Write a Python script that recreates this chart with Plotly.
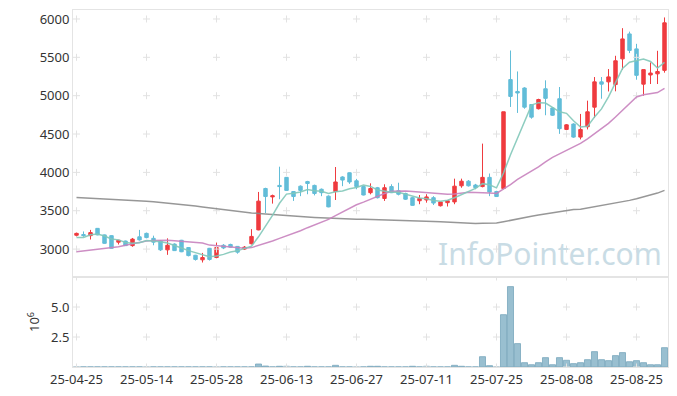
import plotly.graph_objects as go
from plotly.subplots import make_subplots
import pandas as pd

# ---- trading days (KRX) ----
apr_days = [25, 28, 29, 30]
may_days = [2, 7, 8, 9, 12, 13, 14, 15, 16, 19, 20, 21, 22, 23, 26, 27, 28, 29, 30]
jun_days = [2, 4, 5, 9, 10, 11, 12, 13, 16, 17, 18, 19, 20, 23, 24, 25, 26, 27, 30]
jul_days = [1, 2, 3, 4, 7, 8, 9, 10, 11, 14, 15, 16, 17, 18, 21, 22, 23, 24, 25, 28, 29, 30, 31]
aug_days = [1, 4, 5, 6, 7, 8, 11, 12, 13, 14, 18, 19, 20, 21, 22, 25, 26, 27, 28, 29]
dates = ([f"25-04-{d:02d}" for d in apr_days] + [f"25-05-{d:02d}" for d in may_days] +
         [f"25-06-{d:02d}" for d in jun_days] + [f"25-07-{d:02d}" for d in jul_days] +
         [f"25-08-{d:02d}" for d in aug_days])

# ---- OHLC ----
opens = [3180, 3190, 3175, 3270, 3185, 3175, 3090, 3105, 3045, 3160,
         3205, 3140, 3105, 2990, 3065, 3115, 3020, 2920, 2860, 3010,
         2890, 3050, 3060, 3035, 3000, 3070, 3250, 3790, 3680, 3830,
         3935, 3750, 3820, 3880, 3830, 3780, 3690, 3750, 3940, 3995,
         3890, 3815, 3735, 3800, 3660, 3815, 3760, 3725, 3670, 3630,
         3640, 3670, 3565, 3605, 3615, 3825, 3885, 3835, 3815, 3935,
         3750, 3790, 5210, 5055, 5100, 4885, 4830, 5090, 4840, 4960,
         4560, 4630, 4460, 4595, 4850, 5180, 5180, 5145, 5480, 5805,
         5610, 5150, 5270, 5285, 5330]
highs = [3215, 3230, 3250, 3275, 3190, 3180, 3120, 3110, 3145, 3250,
         3215, 3175, 3115, 3140, 3075, 3120, 3025, 2925, 2950, 3015,
         3085, 3065, 3070, 3040, 3040, 3260, 3745, 3800, 3710, 4074,
         3940, 3755, 3830, 3890, 3840, 3790, 3700, 4070, 3950, 4000,
         3915, 3820, 3857, 3810, 3845, 3845, 3865, 3735, 3680, 3705,
         3715, 3690, 3620, 3640, 3918, 3918, 3900, 3850, 4375, 3985,
         3760, 4790, 5589, 5316, 5110, 4890, 4960, 5200, 4850, 5113,
         4630, 4640, 4762, 4935, 5243, 5243, 5347, 5520, 5880, 5835,
         5676, 5340, 5433, 5585, 6020]
lows = [3165, 3160, 3125, 3180, 3070, 3005, 3060, 3040, 3030, 3110,
        3140, 3050, 2975, 2925, 2975, 2960, 2905, 2850, 2825, 2850,
        2880, 3000, 3020, 2940, 2990, 3060, 3245, 3470, 3593, 3650,
        3760, 3628, 3690, 3715, 3700, 3690, 3545, 3640, 3820, 3850,
        3780, 3700, 3714, 3660, 3628, 3730, 3700, 3640, 3565, 3585,
        3605, 3575, 3555, 3555, 3585, 3800, 3815, 3780, 3805, 3690,
        3680, 3780, 4853, 4775, 4830, 4700, 4820, 4745, 4735, 4502,
        4550, 4450, 4430, 4560, 4710, 4960, 5055, 5057, 5338, 5555,
        5208, 5000, 5152, 5152, 5300]
closes = [3205, 3175, 3215, 3185, 3075, 3010, 3115, 3045, 3130, 3120,
          3150, 3090, 2990, 3050, 2980, 2965, 2915, 2865, 2890, 2865,
          3020, 3015, 3025, 2960, 3025, 3165, 3625, 3685, 3695, 3815,
          3765, 3685, 3765, 3855, 3725, 3735, 3550, 3875, 3900, 3875,
          3815, 3705, 3790, 3670, 3800, 3735, 3715, 3650, 3570, 3660,
          3680, 3600, 3615, 3630, 3820, 3885, 3825, 3800, 3935, 3745,
          3685, 4790, 4990, 5035, 4850, 4720, 4950, 4965, 4745, 4570,
          4620, 4460, 4560, 4790, 5180, 5150, 5245, 5455, 5740, 5590,
          5265, 5340, 5295, 5315, 5950]

# volume in millions of shares
volumes = [0.01, 0.01, 0.01, 0.01, 0.01, 0.01, 0.01, 0.01, 0.01, 0.01,
           0.01, 0.01, 0.01, 0.01, 0.01, 0.01, 0.01, 0.01, 0.01, 0.01,
           0.01, 0.01, 0.01, 0.01, 0.01, 0.01, 0.25, 0.08, 0.01, 0.06,
           0.06, 0.01, 0.01, 0.06, 0.01, 0.01, 0.01, 0.14, 0.01, 0.01,
           0.01, 0.01, 0.06, 0.06, 0.01, 0.01, 0.01, 0.01, 0.06, 0.01,
           0.06, 0.01, 0.01, 0.01, 0.14, 0.06, 0.01, 0.01, 0.86, 0.11,
           0.01, 4.36, 6.70, 1.95, 0.36, 0.19, 0.36, 0.78, 0.19, 0.78,
           0.56, 0.28, 0.36, 0.61, 1.28, 0.61, 0.53, 0.95, 1.20, 0.44,
           0.53, 0.36, 0.19, 0.19, 1.61]

# moving-average values at the start (window reaches before the first shown day)
ma5_head = [3152, 3152, 3186, 3195]
ma20_head = [2965, 2975, 2985, 2995, 3005, 3013, 3030, 3050, 3070, 3090,
             3105, 3112, 3117, 3115, 3110, 3104, 3095, 3088, 3078]
# long moving average
ma_long = [3671, 3667, 3663, 3659, 3655, 3650, 3645, 3640, 3634, 3628,
           3623, 3616, 3608, 3600, 3592, 3585, 3574, 3562, 3550, 3538,
           3526, 3516, 3506, 3494, 3482, 3472, 3464, 3456, 3449, 3442,
           3436, 3430, 3424, 3418, 3413, 3408, 3403, 3399, 3396, 3393,
           3390, 3388, 3386, 3384, 3382, 3380, 3378, 3375, 3372, 3368,
           3364, 3360, 3356, 3350, 3344, 3338, 3336, 3335, 3336, 3337,
           3340, 3356, 3376, 3396, 3412, 3428, 3444, 3460, 3476, 3491,
           3505, 3515, 3520, 3535, 3550, 3566, 3582, 3598, 3615, 3635,
           3655, 3677, 3700, 3730, 3765]

price_ticks = [3000, 3500, 4000, 4500, 5000, 5500, 6000]
vol_ticks = [2.5, 5.0]
tick_dates = dates[::10]

close_s = pd.Series(closes, dtype=float)
ma5 = close_s.rolling(5).mean()
ma5.iloc[:len(ma5_head)] = ma5_head
ma20 = close_s.rolling(20).mean()
ma20.iloc[:len(ma20_head)] = ma20_head

RED = "#ef3b3f"
BLUE = "#62bdd8"
FONT = "Noto Sans"
AX = "#e4e4e4"
CROSS = "#e2e2e2"

fig = make_subplots(rows=2, cols=1, shared_xaxes=True, vertical_spacing=0)

# grid crosses
cx, cy = [], []
for d in tick_dates:
    for v in price_ticks:
        cx.append(d); cy.append(v)
fig.add_trace(go.Scatter(x=cx, y=cy, mode="markers", hoverinfo="skip", showlegend=False,
                         marker=dict(symbol="cross-thin", size=5, line=dict(color=CROSS, width=1))),
              row=1, col=1)
vx, vy = [], []
for d in tick_dates:
    for v in [0] + vol_ticks + [7.5]:
        vx.append(d); vy.append(v)
fig.add_trace(go.Scatter(x=vx, y=vy, mode="markers", hoverinfo="skip", showlegend=False,
                         marker=dict(symbol="cross-thin", size=5, line=dict(color=CROSS, width=1))),
              row=2, col=1)

fig.add_trace(go.Scatter(x=dates, y=ma_long, mode="lines", showlegend=False,
                         line=dict(color="rgba(140,140,140,0.9)", width=1.5)), row=1, col=1)
fig.add_trace(go.Scatter(x=dates, y=ma20, mode="lines", showlegend=False,
                         line=dict(color="rgba(200,130,190,0.9)", width=1.5)), row=1, col=1)
fig.add_trace(go.Scatter(x=dates, y=ma5, mode="lines", showlegend=False,
                         line=dict(color="rgba(130,200,185,0.9)", width=1.5)), row=1, col=1)

fig.add_trace(go.Candlestick(x=dates, open=opens, high=highs, low=lows, close=closes,
                             showlegend=False,
                             increasing=dict(line=dict(color=RED, width=1), fillcolor=RED),
                             decreasing=dict(line=dict(color=BLUE, width=1), fillcolor=BLUE)),
              row=1, col=1)

fig.add_trace(go.Bar(x=dates, y=volumes, showlegend=False, width=0.86,
                     marker=dict(color="rgba(135,180,200,0.85)", line=dict(color="#78a7bd", width=0.8))),
              row=2, col=1)

fig.add_annotation(text="InfoPointer.com", xref="paper", yref="paper", x=0.802, y=0.319,
                   xanchor="center", yanchor="middle",
                   showarrow=False, font=dict(family=FONT, size=30, color="#c9dce5"))

vol_frac = 90 / 357
xcommon = dict(type="category", categoryorder="array", categoryarray=dates,
               range=[-0.5, 84.5], showgrid=False, showline=True, mirror=True,
               linecolor=AX, tickvals=tick_dates, ticktext=tick_dates, ticks="",
               automargin=False)
fig.update_layout(
    width=677, height=396,
    margin=dict(l=73, r=9, t=10, b=29),
    paper_bgcolor="white", plot_bgcolor="white",
    font=dict(family=FONT, size=13, color="#333333"),
    showlegend=False,
    xaxis=dict(**xcommon, showticklabels=False, rangeslider=dict(visible=False)),
    xaxis2=dict(**xcommon, tickfont=dict(size=13, color="#333333")),
    yaxis=dict(domain=[vol_frac, 1], range=[2636, 6117], showgrid=False, zeroline=False,
               showline=True, mirror=True, linecolor=AX, tickvals=price_ticks,
               ticktext=[str(v) for v in price_ticks], ticks="", tickfont=dict(size=13),
               automargin=False),
    yaxis2=dict(domain=[0, vol_frac], range=[0, 7.5], showgrid=False, zeroline=False,
                showline=True, mirror=True, linecolor=AX, tickvals=vol_ticks,
                ticktext=["2.5", "5.0"], ticks="", tickfont=dict(size=13),
                title=dict(text="10<sup>6</sup>", font=dict(size=13), standoff=8),
                automargin=False),
)

fig.write_html("out.html", config={"displayModeBar": False},
               post_script="document.body.style.margin='0';")
